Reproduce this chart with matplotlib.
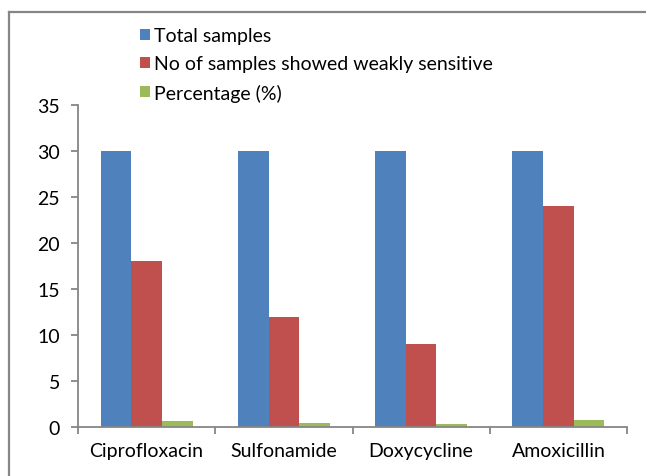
import matplotlib
matplotlib.use("Agg")
import matplotlib.pyplot as plt
from matplotlib.patches import Patch
from matplotlib.lines import Line2D
import numpy as np

# data
drugs = ["Ciprofloxacin", "Sulfonamide", "Doxycycline", "Amoxicillin"]
total_samples = [30, 30, 30, 30]
weakly_sensitive = [18, 12, 9, 24]
percentage = [0.6, 0.4, 0.3, 0.8]
series_names = ["Total samples", "No of samples showed weakly sensitive", "Percentage (%)"]
colors = ["#4F81BD", "#C0504D", "#9BBB59"]

plt.rcParams["font.family"] = ["Lato", "DejaVu Sans"]
fs = 14

fig = plt.figure(figsize=(6.46, 4.77), dpi=100)
ax = fig.add_axes([78 / 646, 1 - 428 / 477, (627 - 78) / 646, (428 - 106) / 477])

x = np.arange(len(drugs))
w = 0.223
for i, vals in enumerate([total_samples, weakly_sensitive, percentage]):
    ax.bar(x + (i - 1) * w, vals, width=w, color=colors[i], label=series_names[i])

ax.set_xlim(-0.5, len(drugs) - 0.5)
ax.set_ylim(0, 35)
ax.set_yticks(range(0, 36, 5))
ax.set_xticks(x)
ax.set_xticklabels(drugs)
ax.set_xticks(np.arange(-0.5, len(drugs), 1), minor=True)

axis_gray = "#868686"
for side in ["top", "right"]:
    ax.spines[side].set_visible(False)
for side in ["left", "bottom"]:
    ax.spines[side].set_color(axis_gray)
    ax.spines[side].set_linewidth(1.3)

ax.tick_params(axis="y", direction="out", length=5, color=axis_gray, width=1.3,
               labelsize=fs, pad=8)
ax.tick_params(axis="x", which="major", length=0, labelsize=fs, pad=11)
ax.tick_params(axis="x", which="minor", direction="out", length=5, color=axis_gray, width=1.3)

handles = [Patch(facecolor=c) for c in colors]
fig.legend(handles, series_names, loc="upper left", bbox_to_anchor=(140 / 646, 1 - 28 / 477),
           frameon=False, fontsize=fs, handlelength=0.5, handleheight=0.5,
           handletextpad=0.2, labelspacing=0.58, borderpad=0, borderaxespad=0)

# outer chart border (only top and left visible in the crop)
fig.add_artist(Line2D([9 / 646, 9 / 646], [0, 1 - 13 / 477], transform=fig.transFigure,
                      color=axis_gray, lw=1.6))
fig.add_artist(Line2D([9 / 646, 1], [1 - 13 / 477, 1 - 13 / 477], transform=fig.transFigure,
                      color=axis_gray, lw=1.6))

fig.savefig("out.png", dpi=100)
